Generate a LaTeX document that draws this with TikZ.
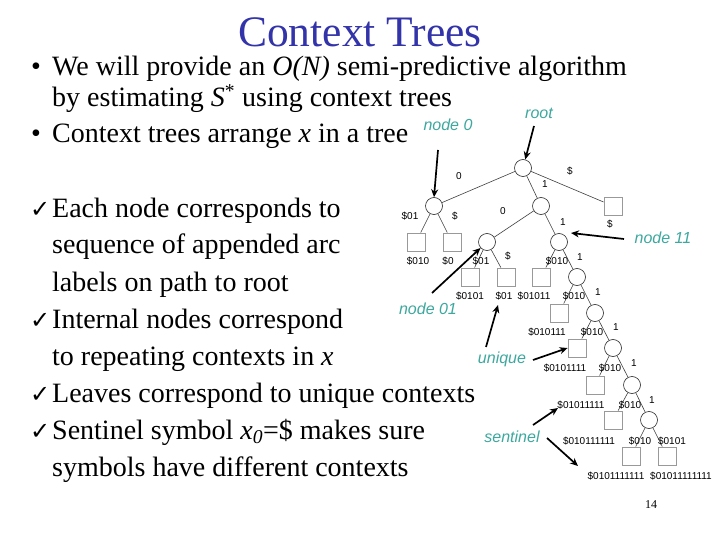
\documentclass[tikz,border=0pt]{standalone}
\usepackage{fontspec}
\setmainfont{Liberation Serif}
\newfontfamily\labfont{Liberation Sans}
\newfontfamily\chkfont{DejaVu Sans}
\usetikzlibrary{arrows.meta}
\definecolor{titleblue}{RGB}{51,51,170}
\definecolor{annteal}{RGB}{60,168,158}
\begin{document}
\begin{tikzpicture}[x=1pt,y=-1pt,
  txt/.style={anchor=base west, inner sep=0, font=\fontsize{28}{32}\selectfont},
  symb/.style={anchor=base west, inner sep=0},
  chk/.style={anchor=base west, inner sep=0, font=\chkfont\fontsize{24}{26}\selectfont},
  cnode/.style={circle, draw=black!85, line width=0.6pt, minimum size=17pt, inner sep=0},
  leaf/.style={rectangle, draw=black!40, line width=0.9pt, minimum size=18pt, inner sep=0},
  edge/.style={draw=black!75, line width=0.6pt},
  lab/.style={inner sep=0, font=\labfont\fontsize{10}{11}\selectfont},
  ann/.style={inner sep=0, text=annteal, font=\labfont\itshape\fontsize{16}{18}\selectfont},
  arr/.style={line width=1.7pt, -{Stealth[length=8pt,width=7pt]}}
]
\useasboundingbox (0,0) rectangle (720,540);
\fill[white] (0,0) rectangle (720,540);

% title
\node[anchor=base, inner sep=0, text=titleblue, font=\fontsize{43.5}{50}\selectfont] (title) at (360,47) {Context Trees};

% bullets
\node[symb, font=\fontsize{28}{32}\selectfont] (b1) at (31,76) {\textbullet};
\node[txt] (t1) at (52,76) {We will provide an \textit{O(N)} semi-predictive algorithm};
\node[txt] (t2) at (52,107) {by estimating \textit{S}\textsuperscript{*} using context trees};
\node[symb, font=\fontsize{28}{32}\selectfont] (b2) at (31,143) {\textbullet};
\node[txt] (t3) at (52,143) {Context trees arrange \textit{x} in a tree};

% check list
\node[chk] (c1) at (30,218) {✓};
\node[txt] (s1) at (52,218) {Each node corresponds to};
\node[txt] (s2) at (52,254) {sequence of appended arc};
\node[txt] (s3) at (52,291) {labels on path to root};
\node[chk] (c2) at (30,328) {✓};
\node[txt] (s4) at (52,328) {Internal nodes correspond};
\node[txt] (s5) at (52,365) {to repeating contexts in \textit{x}};
\node[chk] (c3) at (30,402) {✓};
\node[txt] (s6) at (52,402) {Leaves correspond to unique contexts};
\node[chk] (c4) at (30,439) {✓};
\node[txt] (s7) at (52,439) {Sentinel symbol \textit{x}\textsubscript{\textit{0}}=\$ makes sure};
\node[txt] (s8) at (52,476) {symbols have different contexts};

% tree nodes
\node[cnode] (R) at (523,168) {};
\node[leaf] (L0) at (613,206) {};
\node[cnode] (N0) at (434,206) {};
\node[cnode] (N1) at (541,206) {};
\node[leaf] (L1) at (416,242) {};
\node[leaf] (L2) at (452,242) {};
\node[cnode] (N01) at (487,242) {};
\node[cnode] (N11) at (559,242) {};
\node[leaf] (L3) at (470,277) {};
\node[leaf] (L4) at (506,277) {};
\node[leaf] (L5) at (541,277) {};
\node[cnode] (N3) at (577,277) {};
\node[leaf] (L6) at (559,313) {};
\node[cnode] (N4) at (595,313) {};
\node[leaf] (L7) at (577,348) {};
\node[cnode] (N5) at (613,348) {};
\node[leaf] (L8) at (595,385) {};
\node[cnode] (N6) at (632,385) {};
\node[leaf] (L9) at (613,420) {};
\node[cnode] (N7) at (649,420) {};
\node[leaf] (L10) at (631,456) {};
\node[leaf] (L11) at (667,456) {};

% tree edges
\draw[edge] (R) -- (N0);
\draw[edge] (R) -- (N1);
\draw[edge] (R) -- (L0);
\draw[edge] (N0) -- (L1);
\draw[edge] (N0) -- (L2);
\draw[edge] (N1) -- (N01);
\draw[edge] (N1) -- (N11);
\draw[edge] (N01) -- (L3);
\draw[edge] (N01) -- (L4);
\draw[edge] (N11) -- (L5);
\draw[edge] (N11) -- (N3);
\draw[edge] (N3) -- (L6);
\draw[edge] (N3) -- (N4);
\draw[edge] (N4) -- (L7);
\draw[edge] (N4) -- (N5);
\draw[edge] (N5) -- (L8);
\draw[edge] (N5) -- (N6);
\draw[edge] (N6) -- (L9);
\draw[edge] (N6) -- (N7);
\draw[edge] (N7) -- (L10);
\draw[edge] (N7) -- (L11);

% edge labels
\node[lab] (e1) at (459,176) {0};
\node[lab] (e2) at (570,171) {\$};
\node[lab] (e3) at (545,184) {1};
\node[lab] (e4) at (410,216) {\$01};
\node[lab] (e5) at (455,216) {\$};
\node[lab] (e6) at (503,211) {0};
\node[lab] (e7) at (563,222) {1};
\node[lab] (e8) at (481,261) {\$01};
\node[lab] (e9) at (508,256) {\$};
\node[lab] (e10) at (557,261) {\$010};
\node[lab] (e11) at (580,257) {1};
\node[lab] (e12) at (574,296) {\$010};
\node[lab] (e13) at (598,292) {1};
\node[lab] (e14) at (592,332) {\$010};
\node[lab] (e15) at (616,327) {1};
\node[lab] (e16) at (610,368) {\$010};
\node[lab] (e17) at (634,363) {1};
\node[lab] (e18) at (630,405) {\$010};
\node[lab] (e19) at (652,400) {1};
\node[lab] (e20) at (640,441) {\$010};
\node[lab] (e21) at (672,441) {\$0101};

% leaf labels
\node[lab] (l0) at (610,224) {\$};
\node[lab] (l1) at (418,261) {\$010};
\node[lab] (l2) at (448,261) {\$0};
\node[lab] (l3) at (470,296) {\$0101};
\node[lab] (l4) at (504,296) {\$01};
\node[lab] (l5) at (534,296) {\$01011};
\node[lab] (l6) at (547,332) {\$010111};
\node[lab] (l7) at (565,368) {\$0101111};
\node[lab] (l8) at (581,405) {\$01011111};
\node[lab] (l9) at (589,441) {\$010111111};
\node[lab] (l10) at (616,476) {\$0101111111};
\node[lab] (l11) at (681,476) {\$01011111111};

% annotations
\node[ann] (aN0) at (448,125) {node 0};
\node[ann] (aR) at (539,113) {root};
\node[ann] (aN11) at (663,238) {node 11};
\node[ann] (aN01) at (428,309) {node 01};
\node[ann] (aU) at (502,359) {unique};
\node[ann] (aS) at (512,437) {sentinel};

\coordinate (p1) at (438,150);
\coordinate (p2) at (534,126);
\coordinate (p3) at (624,239);
\coordinate (q3) at (571,233);
\coordinate (p4) at (432,293);
\coordinate (p5) at (486,347);
\coordinate (q5) at (498,305);
\coordinate (p6) at (533,360);
\coordinate (p7) at (533,425);
\coordinate (q7) at (558,408);
\coordinate (p8) at (547,438);
\coordinate (q8) at (578,466);

\draw[arr] (p1) -- (N0.north);
\draw[arr] (p2) -- (R);
\draw[arr] (p3) -- (q3);
\draw[arr] (p4) -- (N01);
\draw[arr] (p5) -- (q5);
\draw[arr] (p6) -- (L7.west);
\draw[arr] (p7) -- (q7);
\draw[arr] (p8) -- (q8);

% page number
\node[inner sep=0, font=\fontsize{12}{14}\selectfont] (pg) at (651,505) {14};
\end{tikzpicture}
\end{document}
